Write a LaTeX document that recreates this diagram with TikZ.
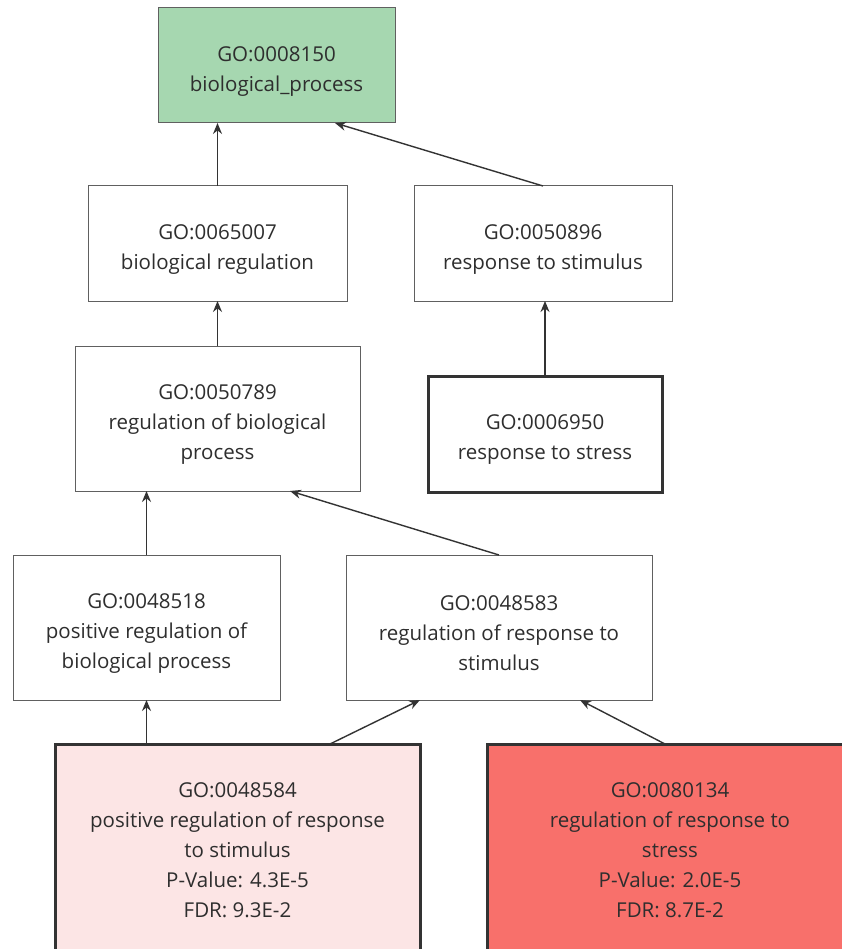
\documentclass[tikz,border=0pt]{standalone}
\usepackage{fontspec}
\setmainfont{Open Sans}
\usetikzlibrary{arrows.meta,calc}
\definecolor{txt}{HTML}{2E2E2E}
\definecolor{thinline}{HTML}{606060}
\definecolor{thickline}{HTML}{333333}
\definecolor{rootfill}{HTML}{A6D7B0}
\definecolor{palefill}{HTML}{FCE5E5}
\definecolor{hotfill}{HTML}{F8706B}
% tall first-line strut to sit short label blocks a little low in their boxes
\newcommand{\labelstrut}{\rule{0pt}{26pt}}
\tikzset{
  term/.style={draw=thinline, line width=1pt, fill=white, rectangle,
    inner sep=0pt, outer sep=0pt, align=center, text=txt,
    font=\fontsize{20.5}{30}\selectfont},
  hit/.style={term, draw=thickline, line width=3pt},
  isa/.style={draw=thickline, line width=1.4pt,
    -{Stealth[length=11pt,width=9pt]}},
}
\begin{document}
\begin{tikzpicture}[x=1pt,y=-1pt]
\clip (0,0) rectangle (842,949);
\fill[white] (0,0) rectangle (842,949);

% GO terms
\node[term, fill=rootfill, minimum width=237, minimum height=115] (root) at (276.5,65.5)
  {\labelstrut GO:0008150\\biological\_process};
\node[term, minimum width=259, minimum height=115] (bioreg) at (217.5,243.5)
  {\labelstrut GO:0065007\\biological regulation};
\node[term, minimum width=258, minimum height=115] (stim) at (543,243.5)
  {\labelstrut GO:0050896\\response to stimulus};
\node[term, minimum width=285, minimum height=145] (regbio) at (217.5,418.5)
  {\labelstrut GO:0050789\\regulation of biological\\process};
\node[hit, minimum width=234, minimum height=116] (stress) at (545,434)
  {\labelstrut GO:0006950\\response to stress};
\node[term, minimum width=267, minimum height=145] (posreg) at (146.5,627.5)
  {\labelstrut GO:0048518\\positive regulation of\\biological process};
\node[term, minimum width=306, minimum height=145] (regstim) at (499,627.5)
  {\labelstrut GO:0048583\\regulation of response to\\stimulus};
\node[hit, fill=palefill, minimum width=365, minimum height=212] (posregstim) at (237.5,850)
  {GO:0048584\\positive regulation of response\\to stimulus\\P-Value: 4.3E-5\\FDR: 9.3E-2};
\node[hit, fill=hotfill, minimum width=366, minimum height=212] (regstress) at (670,850)
  {GO:0080134\\regulation of response to\\stress\\P-Value: 2.0E-5\\FDR: 8.7E-2};

% is-a links, child to parent
\draw[isa] (bioreg.north) -- (bioreg.north |- root.south);
\draw[isa] (stim.north) -- ($(root.south east)+(-60,0)$);
\draw[isa] (regbio.north) -- (regbio.north |- bioreg.south);
\draw[isa] (stress.north) -- (stress.north |- stim.south);
\draw[isa] (posreg.north) -- (posreg.north |- regbio.south);
\draw[isa] (regstim.north) -- ($(regbio.south west)+(215,0)$);
\draw[isa] (posreg.south |- posregstim.north) -- (posreg.south);
\draw[isa] ($(posregstim.north west)+(275,0)$) -- ($(regstim.south west)+(74,0)$);
\draw[isa] ($(regstress.north west)+(178,0)$) -- ($(regstim.south west)+(234,0)$);
\end{tikzpicture}
\end{document}
